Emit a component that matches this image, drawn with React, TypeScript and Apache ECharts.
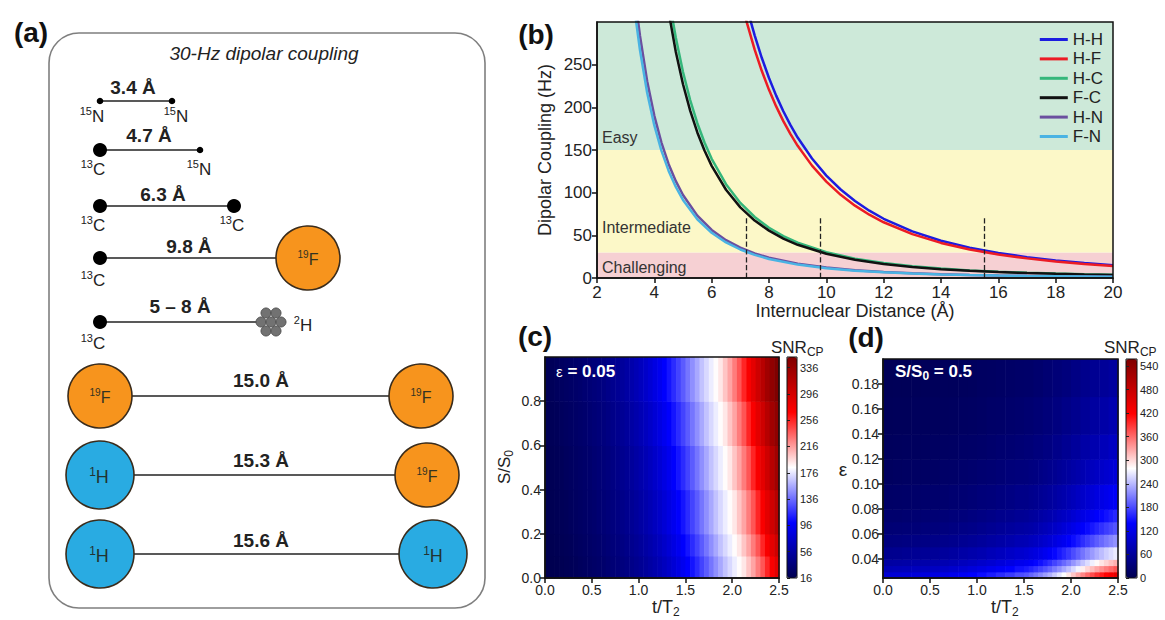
import React, { useEffect, useRef } from 'react';
import * as echarts from 'echarts';

const FF = '"Liberation Sans", Arial, Helvetica, sans-serif';

// ---------- Panel (b): dipolar coupling vs distance ----------
const bondNames = ['H-H', 'H-F', 'H-C', 'F-C', 'H-N', 'F-N'];
const bondColors = ['#1c1ce0', '#ec1c24', '#35b77b', '#111111', '#6b4f9f', '#4ab3e3'];
const rHH = [7.35, 7.5, 7.75, 8, 8.25, 8.5, 8.75, 9, 9.5, 10, 10.5, 11, 11.5, 12, 13, 14, 15, 16, 17, 18, 19, 20];
const dHH = [302.2, 284.4, 257.8, 234.4, 213.7, 195.4, 179.1, 164.6, 140.0, 120.0, 103.7, 90.2, 78.9, 69.4, 54.6, 43.7, 35.6, 29.3, 24.4, 20.6, 17.5, 15.0];
const rHF = [7.2, 7.5, 7.75, 8, 8.25, 8.5, 8.75, 9, 9.5, 10, 10.5, 11, 11.5, 12, 13, 14, 15, 16, 17, 18, 19, 20];
const dHF = [302.5, 267.6, 242.5, 220.5, 201.1, 183.8, 168.5, 154.9, 131.7, 112.9, 97.5, 84.8, 74.2, 65.3, 51.4, 41.1, 33.5, 27.6, 23.0, 19.4, 16.5, 14.1];
const rHC = [4.6, 4.75, 5, 5.25, 5.5, 5.75, 6, 6.5, 7, 7.5, 8, 8.5, 9, 10, 11, 12, 13, 14, 15, 16, 17, 18, 19, 20];
const dHC = [310.0, 281.6, 241.4, 208.6, 181.4, 158.8, 139.7, 109.9, 88.0, 71.5, 58.9, 49.1, 41.4, 30.2, 22.7, 17.5, 13.7, 11.0, 8.9, 7.4, 6.1, 5.2, 4.4, 3.8];
const rFC = [4.5, 4.75, 5, 5.25, 5.5, 5.75, 6, 6.5, 7, 7.5, 8, 8.5, 9, 10, 11, 12, 13, 14, 15, 16, 17, 18, 19, 20];
const dFC = [311.6, 264.9, 227.1, 196.2, 170.6, 149.4, 131.4, 103.4, 82.8, 67.3, 55.5, 46.2, 38.9, 28.4, 21.3, 16.4, 12.9, 10.3, 8.4, 6.9, 5.8, 4.9, 4.1, 3.5];
const rHN = [3.4, 3.5, 3.75, 4, 4.25, 4.5, 4.75, 5, 5.5, 6, 6.5, 7, 7.5, 8, 9, 10, 11, 12, 13, 14, 15, 16, 17, 18, 19, 20];
const dHN = [309.4, 283.6, 230.6, 190.0, 158.4, 133.4, 113.5, 97.3, 73.1, 56.3, 44.3, 35.5, 28.8, 23.8, 16.7, 12.2, 9.1, 7.0, 5.5, 4.4, 3.6, 3.0, 2.5, 2.1, 1.8, 1.5];
const rFN = [3.35, 3.5, 3.75, 4, 4.25, 4.5, 4.75, 5, 5.5, 6, 6.5, 7, 7.5, 8, 9, 10, 11, 12, 13, 14, 15, 16, 17, 18, 19, 20];
const dFN = [304.3, 266.8, 217.0, 178.8, 149.0, 125.5, 106.7, 91.5, 68.8, 53.0, 41.7, 33.4, 27.1, 22.3, 15.7, 11.4, 8.6, 6.6, 5.2, 4.2, 3.4, 2.8, 2.3, 2.0, 1.7, 1.4];
const bondR = [rHH, rHF, rHC, rFC, rHN, rFN];
const bondD = [dHH, dHF, dHC, dFC, dHN, dFN];

const bandLevels = [0, 30, 150, 300];
const bandNames = ['Challenging', 'Intermediate', 'Easy'];
const bandColors = ['#f6d0d3', '#fcf8c8', '#cde9d9'];
const dashX = [7.2, 9.8, 15.5];
const dashTop = 70;

// ---------- t/T2 cell edges ----------
const tEdges25 = [0, 0.1, 0.2, 0.3, 0.4, 0.5, 0.6, 0.7, 0.8, 0.9, 1.0, 1.1, 1.2, 1.3, 1.4, 1.5, 1.6, 1.7, 1.8, 1.9, 2.0, 2.1, 2.2, 2.3, 2.4, 2.5];
const tEdges50 = [0, 0.05, 0.1, 0.15, 0.2, 0.25, 0.3, 0.35, 0.4, 0.45, 0.5, 0.55, 0.6, 0.65, 0.7, 0.75, 0.8, 0.85, 0.9, 0.95, 1.0, 1.05, 1.1, 1.15, 1.2, 1.25, 1.3, 1.35, 1.4, 1.45, 1.5, 1.55, 1.6, 1.65, 1.7, 1.75, 1.8, 1.85, 1.9, 1.95, 2.0, 2.05, 2.1, 2.15, 2.2, 2.25, 2.3, 2.35, 2.4, 2.45, 2.5];
const tEdgesMixed = [0, 0.1, 0.2, 0.3, 0.4, 0.5, 0.6, 0.7, 0.8, 0.9, 1.0, 1.1, 1.2, 1.3, 1.4, 1.5, 1.55, 1.6, 1.65, 1.7, 1.75, 1.8, 1.85, 1.9, 1.95, 2.0, 2.05, 2.1, 2.15, 2.2, 2.25, 2.3, 2.35, 2.4, 2.45, 2.5];

// ---------- Panel (c): SNR vs t/T2 and S/S0 (eps = 0.05) ----------
const sEdges = [0, 0.1, 0.2, 0.4, 0.6, 0.8, 1.0];
const snrC = [
  [16, 16.5, 17, 18, 19, 20, 21, 22.5, 24, 25.5, 27, 28.5, 30, 32, 34, 36, 38, 40.5, 43, 46, 49, 52.5, 56, 60, 64, 69, 74, 80, 86, 92.5, 99, 106.5, 114, 122, 130, 138.5, 147, 155.5, 164, 171, 178, 185, 192, 203, 214, 227, 240, 256, 272, 286],
  [16.5, 17, 18, 19, 20, 21, 22.5, 24, 25.5, 27, 28.5, 30, 32, 34, 36, 38, 40.5, 43, 46, 49, 52.5, 56, 60, 64, 69, 74, 80, 86, 92.5, 99, 106.5, 114, 122, 130, 138.5, 147, 155.5, 164, 171, 178, 185, 192, 203, 214, 227, 240, 256, 272, 286, 300],
  [17, 18, 19, 20, 21, 22.5, 24, 25.5, 27, 28.5, 30, 32, 34, 36, 38, 40.5, 43, 46, 49, 52.5, 56, 60, 64, 69, 74, 80, 86, 92.5, 99, 106.5, 114, 122, 130, 138.5, 147, 155.5, 164, 171, 178, 185, 192, 203, 214, 227, 240, 256, 272, 286, 300, 315],
  [18, 19, 20, 21, 22.5, 24, 25.5, 27, 28.5, 30, 32, 34, 36, 38, 40.5, 43, 46, 49, 52.5, 56, 60, 64, 69, 74, 80, 86, 92.5, 99, 106.5, 114, 122, 130, 138.5, 147, 155.5, 164, 171, 178, 185, 192, 203, 214, 227, 240, 256, 272, 286, 300, 315, 330],
  [19, 20, 21, 22.5, 24, 25.5, 27, 28.5, 30, 32, 34, 36, 38, 40.5, 43, 46, 49, 52.5, 56, 60, 64, 69, 74, 80, 86, 92.5, 99, 106.5, 114, 122, 130, 138.5, 147, 155.5, 164, 171, 178, 185, 192, 203, 214, 227, 240, 256, 272, 286, 300, 315, 330, 341],
  [20, 21, 22.5, 24, 25.5, 27, 28.5, 30, 32, 34, 36, 38, 40.5, 43, 46, 49, 52.5, 56, 60, 64, 69, 74, 80, 86, 92.5, 99, 106.5, 114, 122, 130, 138.5, 147, 155.5, 164, 171, 178, 185, 192, 203, 214, 227, 240, 256, 272, 286, 300, 315, 330, 341, 352],
];
const cbTicksC = [16, 56, 96, 136, 176, 216, 256, 296, 336];

// ---------- Panel (d): SNR vs t/T2 and eps (S/S0 = 0.5) ----------
const epsEdges = [0.025, 0.03, 0.035, 0.04, 0.05, 0.06, 0.07, 0.08, 0.10, 0.12, 0.14, 0.17, 0.20];
const snrD = [
  [105, 106, 108, 110, 112, 115, 119, 125, 131, 138, 146, 154, 163, 171, 181, 186, 195, 204, 214, 225, 236, 250, 264, 278, 293, 310, 328, 345, 361, 376, 391, 404, 417, 428, 440],
  [82, 83, 85, 87, 88, 91, 95, 100, 105, 111, 117, 125, 132, 140, 148, 153, 160, 168, 176, 185, 195, 206, 218, 231, 244, 258, 273, 288, 302, 315, 328, 340, 351, 361, 372],
  [66, 67, 69, 71, 72, 75, 78, 82, 87, 92, 98, 104, 111, 117, 125, 129, 135, 142, 149, 157, 166, 176, 186, 197, 208, 221, 234, 247, 260, 271, 283, 293, 303, 313, 322],
  [50, 51, 53, 55, 56, 58, 61, 64, 69, 73, 77, 83, 88, 94, 100, 104, 109, 114, 120, 127, 135, 143, 152, 161, 170, 181, 192, 203, 214, 224, 234, 243, 252, 260, 268],
  [37, 38, 40, 41, 42, 44, 47, 49, 53, 56, 60, 65, 69, 74, 79, 81, 86, 90, 95, 101, 107, 114, 121, 128, 136, 146, 155, 164, 173, 181, 190, 197, 205, 212, 219],
  [29, 30, 31, 32, 34, 35, 37, 40, 43, 45, 49, 53, 57, 61, 65, 67, 70, 74, 79, 83, 89, 94, 100, 107, 114, 121, 129, 137, 145, 152, 159, 166, 173, 179, 185],
  [24, 24, 25, 27, 28, 29, 31, 33, 35, 38, 41, 44, 48, 51, 55, 56, 60, 63, 67, 71, 75, 80, 86, 91, 97, 104, 111, 118, 124, 131, 137, 143, 149, 155, 161],
  [18, 19, 20, 21, 22, 23, 24, 26, 28, 30, 33, 35, 38, 41, 45, 45, 48, 51, 54, 57, 61, 65, 70, 74, 80, 85, 91, 97, 103, 108, 114, 119, 124, 129, 134],
  [13, 14, 15, 16, 16, 17, 19, 20, 22, 24, 26, 28, 30, 33, 35, 36, 38, 40, 43, 46, 49, 52, 56, 60, 64, 69, 73, 78, 83, 88, 92, 97, 101, 105, 109],
  [10, 11, 12, 12, 13, 14, 15, 16, 18, 19, 21, 23, 25, 27, 29, 32, 36, 40, 46, 53, 60, 69, 76, 84, 91],
  [8, 9, 9, 10, 10, 11, 12, 13, 14, 15, 17, 19, 20, 22, 24, 26, 29, 33, 38, 44, 50, 57, 64, 70, 76],
  [6, 7, 7, 8, 8, 9, 10, 10, 11, 12, 14, 15, 17, 18, 20, 21, 24, 28, 32, 36, 42, 48, 53, 58, 63],
];
const epsTicks = [0.04, 0.06, 0.08, 0.10, 0.12, 0.14, 0.16, 0.18];
const cbTicksD = [0, 60, 120, 180, 240, 300, 360, 420, 480, 540];

// ---------- Panel (a) labels ----------
const distLabels = ['3.4 Å', '4.7 Å', '6.3 Å', '9.8 Å', '5 – 8 Å', '15.0 Å', '15.3 Å', '15.6 Å'];

const seismic = ['#00004f', '#0000ff', '#ffffff', '#ff0000', '#7f0000'];

function cells(yE: number[], M: number[][]) {
  const sets = [tEdges25, tEdges50, tEdgesMixed];
  const out: number[][] = [];
  for (let j = 0; j < M.length; j++) {
    const xE = sets.find((e) => e.length === M[j].length + 1) as number[];
    for (let i = 0; i < M[j].length; i++) {
      out.push([xE[i], xE[i + 1], yE[j], yE[j + 1], M[j][i]]);
    }
  }
  return out;
}

const renderCell = (_p: any, api: any) => {
  const a = api.coord([api.value(0), api.value(3)]);
  const b = api.coord([api.value(1), api.value(2)]);
  return {
    type: 'rect',
    shape: { x: a[0], y: a[1], width: b[0] - a[0] + 0.6, height: b[1] - a[1] + 0.6 },
    style: { fill: api.visual('color') },
  };
};

// ---- text helpers ----
const txt = (x: number, y: number, text: string, st: any = {}) => ({
  type: 'text', x, y, z: 60, silent: true,
  style: { text, align: 'center', verticalAlign: 'middle', fill: '#222', fontFamily: FF, fontSize: 17, ...st },
});
const iso = (x: number, y: number, mass: string, el: string, size = 17, color = '#222') => ({
  type: 'text', x, y, z: 62, silent: true,
  style: {
    text: `{s|${mass}}{m|${el}}`, align: 'center', verticalAlign: 'middle', fontFamily: FF,
    rich: {
      s: { fontSize: Math.round(size * 0.65), lineHeight: Math.round(size * 0.65), padding: [0, 0, 10, 0], verticalAlign: 'middle', fill: color, fontFamily: FF },
      m: { fontSize: size, lineHeight: size, verticalAlign: 'middle', fill: color, fontFamily: FF },
    },
  },
});
const subText = (x: number, y: number, main: string, sub: string, size: number, st: any = {}, after = '') => ({
  type: 'text', x, y, z: 62, silent: true,
  ...st.el,
  style: {
    text: `{m|${main}}{s|${sub}}` + (after ? `{m|${after}}` : ''), align: st.align || 'center', verticalAlign: 'middle', fontFamily: FF,
    rich: {
      m: { fontSize: size, lineHeight: size, verticalAlign: 'middle', fill: st.fill || '#222', fontFamily: FF, fontWeight: st.fontWeight || 'normal' },
      s: { fontSize: Math.round(size * 0.68), lineHeight: Math.round(size * 0.68), padding: [st.subShift || 10, 0, 0, 0], verticalAlign: 'middle', fill: st.fill || '#222', fontFamily: FF, fontWeight: st.fontWeight || 'normal' },
    },
  },
});
const ln = (x1: number, y1: number, x2: number, y2: number) => ({ type: 'line', z: 2, silent: true, shape: { x1, y1, x2, y2 }, style: { stroke: '#222', lineWidth: 1.6 } });
const dot = (cx: number, cy: number, r: number) => ({ type: 'circle', z: 3, silent: true, shape: { cx, cy, r }, style: { fill: '#000' } });
const ORANGE = '#f7941d';
const BLUE = '#29abe2';
const atom = (cx: number, cy: number, r: number, fill: string) => ({ type: 'circle', z: 3, silent: true, shape: { cx, cy, r }, style: { fill, stroke: '#3a2c1c', lineWidth: 1.6 } });
const frame = (x: number, y: number, w: number, h: number, lw = 1.5) => ({ type: 'rect', z: 100, silent: true, shape: { x, y, width: w, height: h }, style: { fill: 'none', stroke: '#111', lineWidth: lw } });

function buildGraphic() {
  const g: any[] = [];
  // Panel (a)
  g.push({ type: 'rect', z: 1, silent: true, shape: { x: 49, y: 33, width: 436, height: 575, r: 30 }, style: { fill: '#fff', stroke: '#7f7f7f', lineWidth: 1.6 } });
  g.push(txt(264, 53, '30-Hz dipolar coupling', { fontSize: 19, fontStyle: 'italic' }));
  const bold = { fontSize: 19, fontWeight: 'bold' };
  g.push(ln(100, 101, 172, 101), dot(100, 101, 3.3), dot(172, 101, 3.3));
  g.push(txt(133, 87, distLabels[0], bold), iso(92, 116, '15', 'N'), iso(176, 116, '15', 'N'));
  g.push(ln(100, 150, 200, 150), dot(100, 150, 7), dot(200, 150, 3.3));
  g.push(txt(149, 135, distLabels[1], bold), iso(93, 169, '13', 'C'), iso(199, 169, '15', 'N'));
  g.push(ln(100, 206, 234, 206), dot(100, 206, 7), dot(234, 206, 7));
  g.push(txt(163, 194, distLabels[2], bold), iso(93, 225, '13', 'C'), iso(232, 225, '13', 'C'));
  g.push(ln(100, 258, 277, 258), dot(100, 258, 7), atom(308, 258, 32, ORANGE));
  g.push(txt(189, 246, distLabels[3], bold), iso(93, 280, '13', 'C'), iso(308, 259, '19', 'F', 16, '#332'));
  g.push(ln(100, 322, 258, 322), dot(100, 322, 7));
  const cl = [[266, 313], [276, 313], [261, 322], [271, 322], [281, 322], [266, 331], [276, 331]];
  cl.forEach(([cx, cy]) => g.push({ type: 'circle', z: 4, silent: true, shape: { cx, cy, r: 5 }, style: { fill: '#727272', stroke: '#505050', lineWidth: 1 } }));
  g.push(txt(180, 306, distLabels[4], bold), iso(93, 343, '13', 'C'), iso(303, 325, '2', 'H'));
  g.push(ln(132, 396, 389, 396), atom(100, 396, 32, ORANGE), atom(421, 396, 32, ORANGE));
  g.push(txt(261, 380, distLabels[5], bold), iso(100, 397, '19', 'F', 16, '#332'), iso(421, 397, '19', 'F', 16, '#332'));
  g.push(ln(134, 475, 395, 475), atom(100, 475, 34, BLUE), atom(427, 475, 32, ORANGE));
  g.push(txt(261, 460, distLabels[6], bold), iso(99, 477, '1', 'H', 18, '#233'), iso(427, 476, '19', 'F', 16, '#332'));
  g.push(ln(134, 554, 399, 554), atom(100, 554, 34, BLUE), atom(433, 554, 34, BLUE));
  g.push(txt(261, 540, distLabels[7], bold), iso(99, 556, '1', 'H', 18, '#233'), iso(433, 556, '1', 'H', 18, '#233'));

  const L = { fontSize: 28, fontWeight: 'bold', fill: '#111' };
  g.push(txt(31, 32, '(a)', L), txt(536, 34, '(b)', L), txt(535, 336, '(c)', L), txt(866, 337, '(d)', L));

  g.push(frame(597, 22, 516, 256), frame(545, 357, 234, 221), frame(883, 359, 235, 219));
  g.push(frame(787, 357, 10, 221, 1), frame(1126, 359, 11, 219, 1));

  g.push({
    type: 'text', x: 556, y: 371, z: 110, silent: true,
    style: {
      text: '{e|ε}{b| = 0.05}', align: 'left', verticalAlign: 'middle',
      rich: {
        e: { fontSize: 15, fill: '#fff', fontFamily: FF, verticalAlign: 'middle' },
        b: { fontSize: 17, fontWeight: 'bold', fill: '#fff', fontFamily: FF, verticalAlign: 'middle' },
      },
    },
  });
  g.push(subText(895, 371, 'S/S', '0', 17, { fill: '#fff', fontWeight: 'bold', align: 'left', subShift: 9 }, ' = 0.5'));
  g.push(subText(771, 347, 'SNR', 'CP', 17, { align: 'left', subShift: 10 }));
  g.push(subText(1104, 347, 'SNR', 'CP', 17, { align: 'left', subShift: 10 }));
  g.push(subText(652, 607, 't/T', '2', 18, { align: 'left', subShift: 10 }));
  g.push(subText(991, 607, 't/T', '2', 18, { align: 'left', subShift: 10 }));
  g.push(subText(504, 467, 'S/S', '0', 17, { el: { rotation: Math.PI / 2 }, subShift: 10 }));
  g.push(txt(843, 469, 'ε', { fontSize: 19 }));
  return g;
}

export default function App() {
  const ref = useRef<HTMLDivElement>(null);
  useEffect(() => {
    if (!ref.current) return;
    const chart = echarts.init(ref.current, undefined, { renderer: 'svg' });

    const axisCommon = (fs: number) => ({
      axisLine: { show: true, lineStyle: { color: '#111', width: 1.5 } },
      axisTick: { show: true, length: 5, inside: false, lineStyle: { color: '#111', width: 1.5 } },
      splitLine: { show: false },
      z: 10,
      axisLabel: { fontSize: fs, color: '#222', fontFamily: FF },
    });

    const lineSeries: any[] = bondNames.map((n, i) => ({
      type: 'line', name: n, xAxisIndex: 0, yAxisIndex: 0,
      data: bondR[i].map((r, j) => [r, bondD[i][j]]),
      symbol: 'none', showSymbol: false, smooth: false, clip: true,
      lineStyle: { width: 2.5, color: bondColors[i] }, itemStyle: { color: bondColors[i] },
      z: 3, silent: true,
    }));
    lineSeries[0].markArea = {
      silent: true,
      itemStyle: { opacity: 1 },
      label: { fontSize: 16, color: '#333', fontFamily: FF },
      data: bandNames.map((nm, k) => [
        {
          name: nm, yAxis: bandLevels[k], itemStyle: { color: bandColors[k], opacity: 1 },
          label: k === 0 ? { position: 'insideLeft', offset: [0, 2] } : k === 1 ? { position: 'insideBottomLeft', offset: [0, -12] } : { position: 'insideBottomLeft', offset: [0, 0] },
        },
        { yAxis: bandLevels[k + 1] },
      ]),
    };
    lineSeries[3].markLine = {
      silent: true, symbol: ['none', 'none'], label: { show: false },
      lineStyle: { type: 'dashed', color: '#222', width: 1.3 },
      emphasis: { disabled: true },
      data: dashX.map((x) => [{ coord: [x, 0] }, { coord: [x, dashTop] }]),
    };

    const option: any = {
      animation: false,
      backgroundColor: '#fff',
      textStyle: { fontFamily: FF },
      grid: [
        { left: 597, top: 22, width: 516, height: 256, outerBoundsMode: 'none' },
        { left: 545, top: 357, width: 234, height: 221, outerBoundsMode: 'none' },
        { left: 883, top: 359, width: 235, height: 219, outerBoundsMode: 'none' },
        { left: 787, top: 357, width: 10, height: 221, outerBoundsMode: 'none' },
        { left: 1126, top: 359, width: 11, height: 219, outerBoundsMode: 'none' },
      ],
      xAxis: [
        {
          gridIndex: 0, type: 'value', min: 2, max: 20, interval: 2, ...axisCommon(17),
          axisLabel: { fontSize: 17, color: '#222', fontFamily: FF, margin: 6 },
          name: 'Internuclear Distance (Å)', nameLocation: 'middle', nameGap: 24,
          nameTextStyle: { fontSize: 18, color: '#222', fontFamily: FF },
        },
        {
          gridIndex: 1, type: 'value', min: 0, max: 2.5, interval: 0.5, ...axisCommon(14),
          axisLabel: { fontSize: 14, color: '#222', fontFamily: FF, margin: 5, formatter: (v: number) => v.toFixed(1) },
        },
        {
          gridIndex: 2, type: 'value', min: 0, max: 2.5, interval: 0.5, ...axisCommon(14),
          axisLabel: { fontSize: 14, color: '#222', fontFamily: FF, margin: 5, formatter: (v: number) => v.toFixed(1) },
        },
        { gridIndex: 3, type: 'value', min: 0, max: 1, show: false },
        { gridIndex: 4, type: 'value', min: 0, max: 1, show: false },
      ],
      yAxis: [
        {
          gridIndex: 0, type: 'value', min: 0, max: 300, interval: 50, ...axisCommon(17),
          axisLabel: { fontSize: 17, color: '#222', fontFamily: FF, margin: 5, showMaxLabel: false },
          name: 'Dipolar Coupling (Hz)', nameLocation: 'middle', nameGap: 43, nameRotate: 90,
          nameTextStyle: { fontSize: 18, color: '#222', fontFamily: FF },
        },
        {
          gridIndex: 1, type: 'value', min: 0, max: 1, interval: 0.2, ...axisCommon(14),
          axisLabel: { fontSize: 14, color: '#222', fontFamily: FF, margin: 4, showMaxLabel: false, formatter: (v: number) => v.toFixed(1) },
        },
        {
          gridIndex: 2, type: 'value', min: 0.025, max: 0.2, ...axisCommon(14),
          axisTick: { show: true, length: 5, inside: false, customValues: epsTicks, lineStyle: { color: '#111', width: 1.5 } },
          axisLabel: { fontSize: 14, color: '#222', fontFamily: FF, margin: 4, customValues: epsTicks, formatter: (v: number) => v.toFixed(2) },
        },
        {
          gridIndex: 3, type: 'value', min: 16, max: 352, position: 'right', z: 10,
          axisLine: { show: false }, splitLine: { show: false },
          axisTick: { show: true, length: 3, customValues: cbTicksC, lineStyle: { color: '#222', width: 1 } },
          axisLabel: { fontSize: 11, color: '#222', fontFamily: FF, margin: 3, customValues: cbTicksC },
        },
        {
          gridIndex: 4, type: 'value', min: 0, max: 558, position: 'right', z: 10,
          axisLine: { show: false }, splitLine: { show: false },
          axisTick: { show: true, length: 3, customValues: cbTicksD, lineStyle: { color: '#222', width: 1 } },
          axisLabel: { fontSize: 11, color: '#222', fontFamily: FF, margin: 3, customValues: cbTicksD },
        },
      ],
      legend: {
        orient: 'vertical', right: 62, top: 31, padding: 0, itemWidth: 28, itemHeight: 3, itemGap: 2.4,
        icon: 'rect',
        textStyle: { fontSize: 17, color: '#222', fontFamily: FF }, data: bondNames, selectedMode: false,
      },
      visualMap: [
        {
          type: 'continuous', seriesIndex: 6, dimension: 4, min: 16, max: 352, inRange: { color: seismic },
          left: 787, top: 357, itemWidth: 10, itemHeight: 221, padding: 0, calculable: false, hoverLink: false, show: true,
        },
        {
          type: 'continuous', seriesIndex: 7, dimension: 4, min: 0, max: 558, inRange: { color: seismic },
          left: 1126, top: 359, itemWidth: 11, itemHeight: 219, padding: 0, calculable: false, hoverLink: false, show: true,
        },
      ],
      series: [
        ...lineSeries,
        {
          type: 'custom', xAxisIndex: 1, yAxisIndex: 1, renderItem: renderCell, silent: true,
          encode: { x: [0, 1], y: [2, 3] }, data: cells(sEdges, snrC), z: 2,
        },
        {
          type: 'custom', xAxisIndex: 2, yAxisIndex: 2, renderItem: renderCell, silent: true,
          encode: { x: [0, 1], y: [2, 3] }, data: cells(epsEdges, snrD), z: 2,
        },
      ],
      graphic: { elements: buildGraphic() },
    };
    chart.setOption(option);
    return () => chart.dispose();
  }, []);
  return (
    <div ref={ref} style={{ position: 'fixed', left: 0, top: 0, width: 1165, height: 620, background: '#fff' }} />
  );
}
